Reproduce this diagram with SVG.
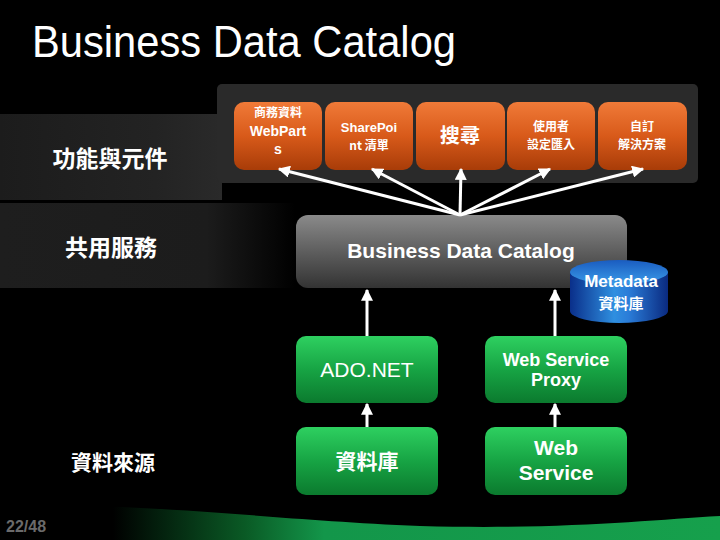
<svg xmlns="http://www.w3.org/2000/svg" width="720" height="540" viewBox="0 0 720 540">
<defs>
<linearGradient id="band1" x1="0" y1="0" x2="1" y2="0"><stop offset="0" stop-color="#1c1c1c"/><stop offset="0.7" stop-color="#232323"/><stop offset="1" stop-color="#2a2a2a"/></linearGradient>
<linearGradient id="band2" x1="0" y1="0" x2="1" y2="0"><stop offset="0" stop-color="#1e1e1e"/><stop offset="0.7" stop-color="#1c1c1c"/><stop offset="1" stop-color="#000"/></linearGradient>
<linearGradient id="orange" x1="0" y1="0" x2="0" y2="1"><stop offset="0" stop-color="#f07a38"/><stop offset="0.5" stop-color="#d85a1a"/><stop offset="1" stop-color="#a83c08"/></linearGradient>
<linearGradient id="grey" x1="0" y1="0" x2="0" y2="1"><stop offset="0" stop-color="#8a8a8a"/><stop offset="0.5" stop-color="#5e5e5e"/><stop offset="1" stop-color="#333"/></linearGradient>
<linearGradient id="green" x1="0" y1="0" x2="0" y2="1"><stop offset="0" stop-color="#2ed060"/><stop offset="0.5" stop-color="#17a444"/><stop offset="1" stop-color="#0b7a2e"/></linearGradient>
<linearGradient id="cyl" x1="0" y1="0" x2="1" y2="0"><stop offset="0" stop-color="#0a2f8a"/><stop offset="0.45" stop-color="#2f8fe0"/><stop offset="0.6" stop-color="#2a7cd8"/><stop offset="1" stop-color="#0a2a80"/></linearGradient>
<linearGradient id="cyltop" x1="0" y1="0" x2="0" y2="1"><stop offset="0" stop-color="#1a5cc0"/><stop offset="1" stop-color="#3a9ae8"/></linearGradient>
<linearGradient id="wave" x1="0" y1="0" x2="1" y2="0"><stop offset="0.08" stop-color="#000"/><stop offset="0.28" stop-color="#0a5a25"/><stop offset="0.4" stop-color="#13964a"/><stop offset="1" stop-color="#16a04c"/></linearGradient>
<marker id="ah" viewBox="0 0 10 10" refX="9" refY="5" markerWidth="4" markerHeight="4" orient="auto"><path d="M0,0 L10,5 L0,10 z" fill="#fff"/></marker>
<style>
.cjk{font-family:"Noto Sans CJK TC","Noto Sans CJK SC",sans-serif;font-weight:bold;fill:#fff}
.lat{font-family:"Liberation Sans",Arial,sans-serif;fill:#fff}
.ob{fill:url(#orange)}
.gb{fill:url(#green)}
.ln{stroke:#fff;stroke-width:3;fill:none;marker-end:url(#ah)}
</style>
</defs>
<rect width="720" height="540" fill="#000"/>
<path d="M60,540 L60,505 C200,508 280,520 420,526 C560,530 650,520 720,516 L720,540 Z" fill="url(#wave)"/>
<text x="32" y="57" class="lat" font-size="45" textLength="424" lengthAdjust="spacingAndGlyphs">Business Data Catalog</text>
<rect x="0" y="114" width="222" height="86" fill="url(#band1)"/>
<rect x="0" y="203" width="295" height="85" fill="url(#band2)"/>
<g id="lbl-func"><text x="110" y="167" class="cjk" font-size="23" text-anchor="middle">功能與元件</text></g>
<g id="lbl-shared"><text x="111" y="256" class="cjk" font-size="23" text-anchor="middle">共用服務</text></g>
<g id="lbl-source"><text x="113" y="470" class="cjk" font-size="21" text-anchor="middle">資料來源</text></g>
<text x="6" y="532" font-family="Liberation Sans Narrow,Liberation Sans,sans-serif" font-weight="bold" font-size="16" fill="#6a6a6a">22/48</text>
<rect x="217" y="84" width="481" height="99" rx="5" fill="#2a2a2a"/>
<g id="n-webparts"><rect x="234" y="102" width="88" height="68" rx="10" class="ob"/>
<text class="cjk" font-size="12" text-anchor="middle" x="278" y="117">商務資料</text>
<text class="lat" font-weight="bold" font-size="14" text-anchor="middle" x="278" y="136">WebPart</text>
<text class="lat" font-weight="bold" font-size="14" text-anchor="middle" x="278" y="154">s</text></g>
<g id="n-sharepoint"><rect x="325" y="102" width="88" height="68" rx="10" class="ob"/>
<text class="lat" font-weight="bold" font-size="13" text-anchor="middle" x="369" y="132">SharePoi</text>
<text class="cjk" font-size="12" text-anchor="middle" x="369" y="150">nt 清單</text></g>
<g id="n-search"><rect x="416" y="102" width="89" height="68" rx="10" class="ob"/>
<text class="cjk" font-size="20" text-anchor="middle" x="460" y="143">搜尋</text></g>
<g id="n-user"><rect x="507" y="102" width="88" height="68" rx="10" class="ob"/>
<text class="cjk" font-size="12" text-anchor="middle" x="551" y="131">使用者</text>
<text class="cjk" font-size="12" text-anchor="middle" x="551" y="149">設定匯入</text></g>
<g id="n-custom"><rect x="598" y="102" width="89" height="68" rx="10" class="ob"/>
<text class="cjk" font-size="12" text-anchor="middle" x="642" y="131">自訂</text>
<text class="cjk" font-size="12" text-anchor="middle" x="642" y="149">解決方案</text></g>
<g id="n-bdc"><rect x="296" y="215" width="331" height="73" rx="12" fill="url(#grey)"/>
<text class="lat" font-weight="bold" font-size="21" text-anchor="middle" x="461" y="258">Business Data Catalog</text></g>
<g id="n-metadata">
<path d="M570,272 L570,311 A49,12 0 0 0 668,311 L668,272 Z" fill="url(#cyl)"/>
<ellipse cx="619" cy="272" rx="49" ry="12" fill="url(#cyltop)"/>
<text class="lat" font-weight="bold" font-size="17" text-anchor="middle" x="621" y="287">Metadata</text>
<text class="cjk" font-size="15" text-anchor="middle" x="621" y="309">資料庫</text></g>
<g id="n-ado"><rect x="296" y="336" width="142" height="67" rx="10" class="gb"/>
<text class="lat" font-size="21" text-anchor="middle" x="367" y="377">ADO.NET</text></g>
<g id="n-wsproxy"><rect x="485" y="336" width="142" height="67" rx="10" class="gb"/>
<text class="lat" font-weight="bold" font-size="18" text-anchor="middle" x="556" y="366">Web Service</text>
<text class="lat" font-weight="bold" font-size="18" text-anchor="middle" x="556" y="386">Proxy</text></g>
<g id="n-db"><rect x="296" y="427" width="142" height="68" rx="10" class="gb"/>
<text class="cjk" font-size="21" text-anchor="middle" x="367" y="469">資料庫</text></g>
<g id="n-ws"><rect x="485" y="427" width="142" height="68" rx="10" class="gb"/>
<text class="lat" font-weight="bold" font-size="21" text-anchor="middle" x="556" y="455">Web</text>
<text class="lat" font-weight="bold" font-size="21" text-anchor="middle" x="556" y="480">Service</text></g>
<g id="connectors">
<line class="ln" x1="460" y1="215" x2="279" y2="169"/>
<line class="ln" x1="460" y1="215" x2="372" y2="169"/>
<line class="ln" x1="460" y1="215" x2="461" y2="169"/>
<line class="ln" x1="460" y1="215" x2="550" y2="169"/>
<line class="ln" x1="460" y1="215" x2="643" y2="169"/>
<line class="ln" x1="367" y1="336" x2="367" y2="290"/>
<line class="ln" x1="555" y1="336" x2="555" y2="290"/>
<line class="ln" x1="367" y1="427" x2="367" y2="404"/>
<line class="ln" x1="555" y1="427" x2="555" y2="404"/>
</g>
</svg>
